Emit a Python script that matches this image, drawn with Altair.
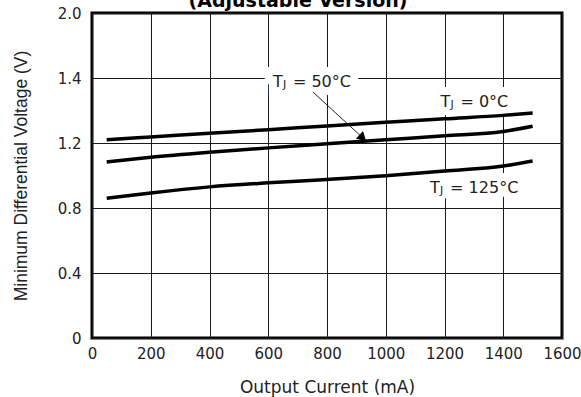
import altair as alt
import pandas as pd

# ---- data ----
current_ma = [50, 200, 400, 600, 800, 1000, 1200, 1400, 1500]
v_tj_0c = [1.220, 1.237, 1.260, 1.282, 1.305, 1.327, 1.349, 1.370, 1.385]
v_tj_50c = [1.083, 1.112, 1.143, 1.170, 1.195, 1.220, 1.244, 1.271, 1.303]
v_tj_125c = [0.860, 0.893, 0.930, 0.955, 0.976, 0.999, 1.027, 1.058, 1.089]

x_tick_values = [0, 200, 400, 600, 800, 1000, 1200, 1400, 1600]
y_grid_values = [0, 0.2, 0.4, 0.6, 0.8, 1.0, 1.2, 1.4, 1.6, 1.8, 2.0]
y_label_values = [0, 0.4, 0.8, 1.2, 1.6, 2.0]
y_label_texts = ["0", "0.4", "0.8", "1.2", "1.4", "2.0"]

label_temps = ["= 50°C", "= 0°C", "= 125°C"]
label_x = [616, 1186, 1151]
label_y = [1.575, 1.454, 0.923]

arrow_start_x = [752]
arrow_start_y = [1.514]
arrow_head_x = [918]
arrow_head_y = [1.238]

title_text = "(Adjustable Version)"

# ---- tables ----
rows = []
for name, vals in [("0°C", v_tj_0c), ("50°C", v_tj_50c), ("125°C", v_tj_125c)]:
    for x, v in zip(current_ma, vals):
        rows.append({"series": name, "current": x, "voltage": v})
lines_df = pd.DataFrame(rows)

labels_df = pd.DataFrame({"x": label_x, "y": label_y, "rest": label_temps,
                          "t": ["T"] * 3, "j": ["J"] * 3})
arrow_df = pd.DataFrame({"x": arrow_start_x, "y": arrow_start_y,
                         "x2": arrow_head_x, "y2": arrow_head_y})

label_expr = " : ".join(
    f"datum.value == {v} ? '{t}'" for v, t in zip(y_label_values, y_label_texts)
) + " : ''"

FONT = "DejaVu Sans"
TXT = "#222222"
GRID = "#1a1a1a"

x_scale = alt.Scale(domain=[0, 1600], nice=False)
y_scale = alt.Scale(domain=[0, 2.0], nice=False)

x_axis = alt.Axis(values=x_tick_values, format="d", title="Output Current (mA)",
                  ticks=False, tickSize=0, labelPadding=8, labelFont=FONT,
                  labelFontSize=15, labelColor=TXT, titleFont=FONT, titleFontSize=17,
                  titleFontWeight="normal", titleColor=TXT, titleY=54,
                  titleBaseline="alphabetic", grid=True, gridColor=GRID,
                  gridWidth=1, gridOpacity=1, domain=False, labelFlush=False)
y_axis = alt.Axis(values=y_grid_values, labelExpr=label_expr,
                  title="Minimum Differential Voltage (V)", ticks=False,
                  tickSize=0, labelPadding=11, labelFont=FONT, labelFontSize=15,
                  labelColor=TXT, titleFont="Liberation Sans", titleFontSize=17.5,
                  titleFontWeight="normal", titleColor=TXT, titleX=-66,
                  titleBaseline="alphabetic", grid=True, gridColor=GRID,
                  gridWidth=1, gridOpacity=1, domain=False, labelFlush=False)

lines = alt.Chart(lines_df).mark_line(
    color="black", strokeWidth=3.5, interpolate="monotone"
).encode(
    x=alt.X("current:Q", scale=x_scale, axis=x_axis),
    y=alt.Y("voltage:Q", scale=y_scale, axis=y_axis),
    detail="series:N",
)

base_lbl = alt.Chart(labels_df)
enc_xy = dict(x=alt.X("x:Q", scale=x_scale), y=alt.Y("y:Q", scale=y_scale))

halo_t = base_lbl.mark_text(align="left", baseline="middle", font=FONT, fontSize=16,
                            stroke="white", strokeWidth=16, fill="white").encode(
    text="t:N", **enc_xy)
halo_rest = base_lbl.mark_text(align="left", baseline="middle", font=FONT, fontSize=16,
                               dx=20, stroke="white", strokeWidth=16, fill="white").encode(
    text="rest:N", **enc_xy)

txt_t = base_lbl.mark_text(align="left", baseline="middle", font=FONT, fontSize=16,
                           color=TXT).encode(text="t:N", **enc_xy)
txt_j = base_lbl.mark_text(align="left", baseline="middle", font=FONT, fontSize=11,
                           dx=10, dy=3, color=TXT).encode(text="j:N", **enc_xy)
txt_rest = base_lbl.mark_text(align="left", baseline="middle", font=FONT, fontSize=16,
                              dx=20, color=TXT).encode(text="rest:N", **enc_xy)

arrow_line = alt.Chart(arrow_df).mark_rule(color=TXT, strokeWidth=1).encode(
    x=alt.X("x:Q", scale=x_scale), y=alt.Y("y:Q", scale=y_scale),
    x2="x2:Q", y2="y2:Q")
arrow_head = alt.Chart(arrow_df).mark_point(
    shape="triangle", filled=True, size=110, angle=132.7, color="black", opacity=1
).encode(x=alt.X("x2:Q", scale=x_scale), y=alt.Y("y2:Q", scale=y_scale))

title = alt.Chart(pd.DataFrame({"t": [title_text]})).mark_text(
    font=FONT, fontSize=19, fontWeight="bold", align="center",
    baseline="alphabetic", color="black"
).encode(text="t:N", x=alt.value(206), y=alt.value(-6))

chart = alt.layer(
    halo_t, halo_rest, lines, arrow_line, arrow_head, txt_t, txt_j, txt_rest, title
).properties(
    width=470, height=325,
    background="white",
    autosize=alt.AutoSizeParams(type="none"),
    padding={"left": 92, "top": 13, "right": 19, "bottom": 59},
).configure_view(
    stroke="black", strokeWidth=3
)

chart.save("out.html", embed_options={"renderer": "svg", "actions": False})
